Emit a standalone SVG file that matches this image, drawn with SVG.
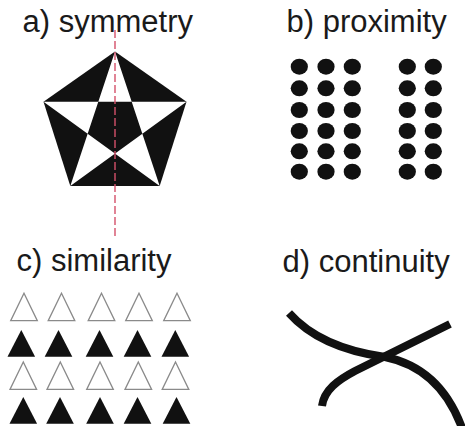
<svg xmlns="http://www.w3.org/2000/svg" width="465" height="426" viewBox="0 0 465 426">
<style>
.lbl{font-family:"Liberation Sans",Arial,sans-serif;font-size:31px;fill:#1a1a1a}
.dot{fill:#111}
.tw{fill:#fff;stroke:#8a8a8a;stroke-width:1.3;stroke-linejoin:miter}
.tb{fill:#111}
.crv{fill:none;stroke:#111;stroke-width:8}
</style>
<defs>
<ellipse id="d" cx="0" cy="0" rx="8.6" ry="8" class="dot"/>
<polygon id="tw" points="0,0 13.3,27.4 -13.3,27.4" class="tw"/>
<polygon id="tb" points="0,0 13.8,26.7 -13.8,26.7" class="tb"/>
</defs>
<rect width="465" height="426" fill="#fff"/>
<g id="labels">
<text class="lbl" x="22.5" y="32">a) symmetry</text>
<text class="lbl" x="286.5" y="32">b) proximity</text>
<text class="lbl" x="16.5" y="270.5" font-size="30.4">c) similarity</text>
<text class="lbl" x="282.5" y="271.5" font-size="32">d) continuity</text>
</g>
<g id="symmetry">
<polygon points="115,51.5 186.5,101.7 159.7,186 70.3,186 43.5,101.7" fill="#111"/>
<polygon points="115,51.5 70.3,186 186.5,101.7 43.5,101.7 159.7,186" fill="#fff" fill-rule="evenodd"/>
<line x1="115" y1="30" x2="115" y2="236" stroke="#d4506a" stroke-width="1.4" stroke-dasharray="8,3"/>
</g>
<g id="proximity">
<use href="#d" x="299.3" y="66.7"/><use href="#d" x="326" y="66.7"/><use href="#d" x="352.3" y="66.7"/><use href="#d" x="407.3" y="66.7"/><use href="#d" x="433.3" y="66.7"/>
<use href="#d" x="299.3" y="88.3"/><use href="#d" x="326" y="88.3"/><use href="#d" x="352.3" y="88.3"/><use href="#d" x="407.3" y="88.3"/><use href="#d" x="433.3" y="88.3"/>
<use href="#d" x="299.3" y="110"/><use href="#d" x="326" y="110"/><use href="#d" x="352.3" y="110"/><use href="#d" x="407.3" y="110"/><use href="#d" x="433.3" y="110"/>
<use href="#d" x="299.3" y="131"/><use href="#d" x="326" y="131"/><use href="#d" x="352.3" y="131"/><use href="#d" x="407.3" y="131"/><use href="#d" x="433.3" y="131"/>
<use href="#d" x="299.3" y="151.3"/><use href="#d" x="326" y="151.3"/><use href="#d" x="352.3" y="151.3"/><use href="#d" x="407.3" y="151.3"/><use href="#d" x="433.3" y="151.3"/>
<use href="#d" x="299.3" y="171.7"/><use href="#d" x="326" y="171.7"/><use href="#d" x="352.3" y="171.7"/><use href="#d" x="407.3" y="171.7"/><use href="#d" x="433.3" y="171.7"/>
</g>
<g id="similarity">
<use href="#tw" x="24" y="293.3"/><use href="#tw" x="61.5" y="293.3"/><use href="#tw" x="101.5" y="293.3"/><use href="#tw" x="139" y="293.3"/><use href="#tw" x="177" y="293.3"/>
<use href="#tb" x="21.3" y="330"/><use href="#tb" x="58.5" y="330"/><use href="#tb" x="99.5" y="330"/><use href="#tb" x="137.5" y="330"/><use href="#tb" x="175.3" y="330"/>
<use href="#tw" x="23.3" y="362"/><use href="#tw" x="60.3" y="362"/><use href="#tw" x="100" y="362"/><use href="#tw" x="138.3" y="362"/><use href="#tw" x="175.5" y="362"/>
<use href="#tb" x="23.3" y="397"/><use href="#tb" x="60" y="397"/><use href="#tb" x="100" y="397"/><use href="#tb" x="137.5" y="397"/><use href="#tb" x="176.5" y="397"/>
</g>
<g id="continuity">
<path class="crv" d="M289,313 Q320,348 385,357 Q440,368 462,428"/>
<path class="crv" d="M322,406 C324,390 338,380 355,371 L450,324"/>
</g>
</svg>
